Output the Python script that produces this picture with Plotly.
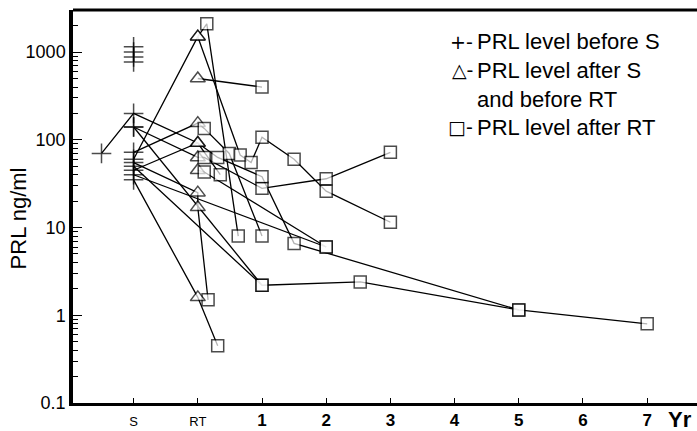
import plotly.graph_objects as go

# ---- data (x: S = -1, RT = 0, then years after RT) ----
x_tick_vals = [-1, 0, 1, 2, 3, 4, 5, 6, 7]
x_tick_text = ["S", "RT", "1", "2", "3", "4", "5", "6", "7"]
y_tick_vals = [0.1, 1, 10, 100, 1000]
y_tick_text = ["0.1", "1", "10", "100", "1000"]

# isolated pre-surgery values (stacked at S)
iso_x = [-1, -1, -1, -1]
iso_y = [1150, 1000, 880, 770]
iso_m = ["+", "+", "+", "+"]

pA_x = [-1.5, -1, 0, 0.35]
pA_y = [70, 200, 92, 40]
pA_m = ["+", "+", "t", "s"]

pB_x = [-1, 0, 0.1, 1, 2, 3]
pB_y = [140, 63, 63, 28, 36, 72]
pB_m = ["+", "t", "s", "s", "s", "s"]

pC_x = [-1, 0, 0.1, 0.49, 1]
pC_y = [72, 155, 135, 70, 8]
pC_m = ["+", "t", "s", "s", "s"]

pD_x = [-1, 0, 0.66, 0.83, 1, 1.5, 2, 3]
pD_y = [60, 1500, 67, 55, 107, 60, 26, 11.5]
pD_m = ["+", "t", "s", "s", "s", "s", "s", "s"]

pE_x = [0, 0.14, 0.63]
pE_y = [1500, 2100, 8]
pE_m = ["t", "s", "s"]

pF_x = [0, 1]
pF_y = [500, 400]
pF_m = ["t", "s"]

pG_x = [-1, 0, 0, 0.16]
pG_y = [55, 25, 17, 1.5]
pG_m = ["+", "t", "t", "s"]

pH_x = [-1, 0, 0.31]
pH_y = [35, 1.6, 0.45]
pH_m = ["+", "t", "s"]

pI_x = [-1, 1, 2.53, 5, 7]
pI_y = [50, 2.2, 2.4, 1.15, 0.8]
pI_m = ["+", "s", "s", "s", "s"]

pJ_x = [-1, 1]
pJ_y = [140, 2.2]
pJ_m = ["+", "s"]

pK_x = [-1, 0, 0.31, 1, 1.5, 5]
pK_y = [45, 92, 63, 38, 6.6, 1.15]
pK_m = ["+", "t", "s", "s", "s", "s"]

pL_x = [-1, 2]
pL_y = [40, 6]
pL_m = ["+", "s"]

pM_x = [0, 0.1, 2]
pM_y = [45, 43, 6]
pM_m = ["t", "s", "s"]

series = [
    (iso_x, iso_y, iso_m), (pA_x, pA_y, pA_m), (pB_x, pB_y, pB_m),
    (pC_x, pC_y, pC_m), (pD_x, pD_y, pD_m), (pE_x, pE_y, pE_m),
    (pF_x, pF_y, pF_m), (pG_x, pG_y, pG_m), (pH_x, pH_y, pH_m),
    (pI_x, pI_y, pI_m), (pJ_x, pJ_y, pJ_m), (pK_x, pK_y, pK_m),
    (pL_x, pL_y, pL_m), (pM_x, pM_y, pM_m),
]

SYM = {"+": "cross-thin", "t": "triangle-up", "s": "square"}
SIZE = {"+": 14, "t": 13, "s": 12}
FONT = "Liberation Sans, Arial, Helvetica, sans-serif"

fig = go.Figure()
# lines first
for xs, ys, ms in series:
    fig.add_trace(go.Scatter(x=xs, y=ys, mode="lines",
                             line=dict(color="black", width=1.3),
                             hoverinfo="skip", showlegend=False))
# markers on top
for xs, ys, ms in series:
    fig.add_trace(go.Scatter(
        x=xs, y=ys, mode="markers", showlegend=False,
        marker=dict(symbol=[SYM[m] for m in ms], size=[SIZE[m] for m in ms],
                    color="white", line=dict(color="black", width=1.5))))

fig.update_layout(
    width=697, height=431,
    margin=dict(l=73, r=0, t=10, b=28),
    paper_bgcolor="white", plot_bgcolor="white",
    font=dict(family=FONT, color="black"),
    showlegend=False,
)
fig.update_xaxes(
    range=[-1.944, 7.776], tickvals=x_tick_vals,
    ticktext=["<span style='font-size:13px'>S</span>",
              "<span style='font-size:13px'>RT</span>"] + [f"<b>{t}</b>" for t in x_tick_text[2:]],
    ticks="inside", ticklen=5, tickwidth=1, tickcolor="black",
    showline=True, linewidth=3, linecolor="black",
    showgrid=False, zeroline=False, tickfont=dict(size=17),
)
fig.update_yaxes(
    type="log", range=[-1, 3.48], tickvals=y_tick_vals, ticktext=y_tick_text,
    ticks="inside", ticklen=9, tickwidth=1.2, tickcolor="black",
    minor=dict(ticks="inside", ticklen=5, tickwidth=1, tickcolor="black", dtick="D1"),
    showline=True, linewidth=3.5, linecolor="black",
    showgrid=False, zeroline=False, tickfont=dict(size=18),
)
fig.add_shape(type="line", xref="paper", yref="paper", x0=0, x1=1, y0=1, y1=1,
              line=dict(color="black", width=3))

fig.add_annotation(text="PRL ng/ml", textangle=-90, xref="paper", yref="paper",
                   x=-0.088, y=0.47, xanchor="center", yanchor="middle",
                   showarrow=False, font=dict(size=22))
fig.add_annotation(text="<b>Yr</b>", xref="paper", yref="paper", x=0.950, y=0,
                   xanchor="left", yanchor="middle", yshift=-16,
                   showarrow=False, font=dict(size=22))

leg_y = [0.919, 0.847, 0.771, 0.702]
leg_sym = ["+-", "△-", "", "□-"]
leg_txt = ["PRL level before S", "PRL level after S", "and before RT", "PRL level after RT"]
for yy, s, t in zip(leg_y, leg_sym, leg_txt):
    fig.add_annotation(text=t, xref="paper", yref="paper", x=0.644, y=yy,
                       xanchor="left", yanchor="middle", showarrow=False,
                       font=dict(size=22))
    if s:
        fig.add_annotation(text=s, xref="paper", yref="paper", x=0.644, y=yy,
                           xanchor="right", yanchor="middle", showarrow=False,
                           font=dict(size=19, family="DejaVu Sans"))

fig.write_html("out.html")
